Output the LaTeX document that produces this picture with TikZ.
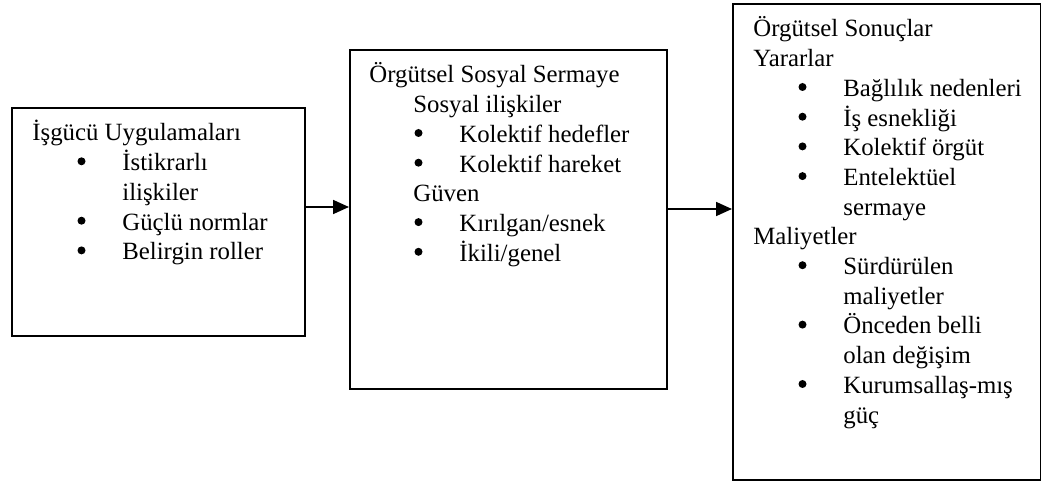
\documentclass[tikz,border=0pt]{standalone}
\usepackage{fontspec}
\setmainfont{Liberation Serif}
\usetikzlibrary{arrows.meta}

% one line of a box text: heading, sub-heading, bullet item, continued item
% (the bullets themselves are drawn as dots in the picture)
\newcommand\boxhead[1]{\hbox{#1}}
\newcommand\boxsub[1]{\hbox{\hspace*{22pt}#1}}
\newcommand\boxitem[1]{\hbox{\hspace*{45pt}#1}}
\newcommand\boxcont[1]{\hbox{\hspace*{45pt}#1}}

\tikzset{
  panel/.style={draw, line width=0.9pt, anchor=north west, inner sep=0pt},
  panetext/.style={anchor=base west, inner sep=0pt,
    execute at begin node={\fontsize{12.4}{14.85}\selectfont}},
  flow/.style={line width=0.9pt, -{Triangle[length=8pt,width=7pt]}},
  dot/.style={fill=black}
}

\begin{document}
\begin{tikzpicture}[x=0.5pt, y=-0.5pt]
\useasboundingbox (0,0) rectangle (1041,481);

% the three boxes
\node[panel, minimum width=146.5pt, minimum height=114pt] (b1) at (11,107) {};
\node[panel, minimum width=158.5pt, minimum height=169.5pt] (b2) at (349,49) {};
\node[panel, minimum width=154pt, minimum height=238pt] (b3) at (732,3) {};

% their contents
\node[panetext] (t1) at (32,141) {\vtop{%
  \boxhead{İşgücü Uygulamaları}
  \boxitem{İstikrarlı}
  \boxcont{ilişkiler}
  \boxitem{Güçlü normlar}
  \boxitem{Belirgin roller}}};

\node[panetext] (t2) at (369,83) {\vtop{%
  \boxhead{Örgütsel Sosyal Sermaye}
  \boxsub{Sosyal ilişkiler}
  \boxitem{Kolektif hedefler}
  \boxitem{Kolektif hareket}
  \boxsub{Güven}
  \boxitem{Kırılgan/esnek}
  \boxitem{İkili/genel}}};

\node[panetext] (t3) at (753,37) {\vtop{%
  \boxhead{Örgütsel Sonuçlar}
  \boxhead{Yararlar}
  \boxitem{Bağlılık nedenleri}
  \boxitem{İş esnekliği}
  \boxitem{Kolektif örgüt}
  \boxitem{Entelektüel}
  \boxcont{sermaye}
  \boxhead{Maliyetler}
  \boxitem{Sürdürülen}
  \boxcont{maliyetler}
  \boxitem{Önceden belli}
  \boxcont{olan değişim}
  \boxitem{Kurumsallaş-mış}
  \boxcont{güç}}};

% bullets of the item lines (line k has its baseline at y0 + 29.7k)
\foreach \k in {1,3,4}
  \fill[dot] (81.5,{141+29.7*\k-9.4}) circle[radius=2pt];
\foreach \k in {2,3,5,6}
  \fill[dot] (418.5,{83+29.7*\k-9.4}) circle[radius=2pt];
\foreach \k in {2,3,4,5,8,10,12}
  \fill[dot] (802.5,{37+29.7*\k-9.4}) circle[radius=2pt];

% connectors
\coordinate (r1) at (0,207);
\coordinate (r2) at (0,209);
\draw[flow] (b1.east |- r1) -- (b2.west |- r1);
\draw[flow] (b2.east |- r2) -- (b3.west |- r2);
\end{tikzpicture}
\end{document}
